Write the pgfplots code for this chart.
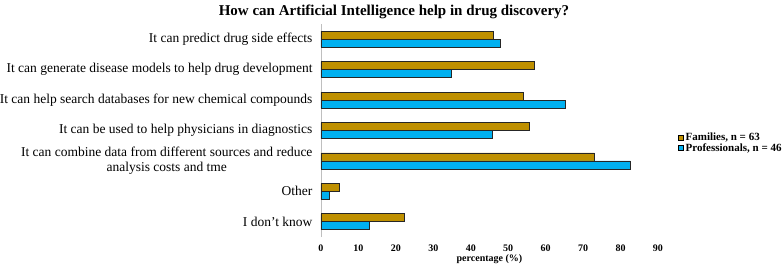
\documentclass[border=0pt]{standalone}
\usepackage{fontspec}
\setmainfont{Liberation Serif}
\usepackage{pgfplots}
\pgfplotsset{compat=1.18}
\definecolor{famgold}{RGB}{191,144,0}
\definecolor{problue}{RGB}{0,176,240}
\begin{document}
\begin{tikzpicture}[x=1pt,y=1pt]
\useasboundingbox (0,0) rectangle (784,269);
\node[font=\fontsize{15}{17}\selectfont\bfseries] at (394,257.5) {How can Artificial Intelligence help in drug discovery?};
\begin{axis}[
  at={(321pt,32pt)}, anchor=south west,
  scale only axis, width=337pt, height=213pt,
  xbar, bar width=8pt,
  xmin=0, xmax=90, ymin=-0.5, ymax=6.5,
  xtick={0,10,...,90},
  ytick={0,...,6},
  yticklabels={I don{\char39}t know, Other, {It can combine data from different sources and reduce\\analysis costs and tme}, It can be used to help physicians in diagnostics, It can help search databases for new chemical compounds, It can generate disease models to help drug development, It can predict drug side effects},
  yticklabel style={align=center, font=\fontsize{13.5}{15.3}\selectfont, xshift=-5pt},
  xticklabel style={font=\fontsize{10}{11}\selectfont\bfseries, yshift=-4pt},
  /pgf/number format/assume math mode=true,
  major tick length=0pt,
  tick style={draw=none},
  axis line style={draw=none},
  xlabel={percentage (\%)},
  xlabel style={font=\fontsize{10}{11}\selectfont\bfseries, yshift=4pt},
  legend style={at={(1.05,0.505)}, anchor=north west, draw=none, fill=none,
    font=\fontsize{11}{12}\selectfont\bfseries, row sep=-2pt, nodes={inner sep=1.5pt}},
  legend cell align=left,
  legend image code/.code={\draw[#1,draw=black,line width=0.7pt] (0pt,-2.7pt) rectangle (5.4pt,2.7pt);},
]
\draw[gray!50] (rel axis cs:0,0) -- (rel axis cs:0,1);
\addplot[fill=famgold, draw=black!85, line width=0.8pt, bar shift=4pt] coordinates {
(22.2,0) (4.8,1) (73.0,2) (55.6,3) (54.0,4) (57.1,5) (46.0,6)};
\addlegendentry{Families, n = 63}
\addplot[fill=problue, draw=black!85, line width=0.8pt, bar shift=-4pt] coordinates {
(13.0,0) (2.2,1) (82.6,2) (45.7,3) (65.2,4) (34.8,5) (47.8,6)};
\addlegendentry{Professionals, n = 46}
\end{axis}
\end{tikzpicture}
\end{document}
